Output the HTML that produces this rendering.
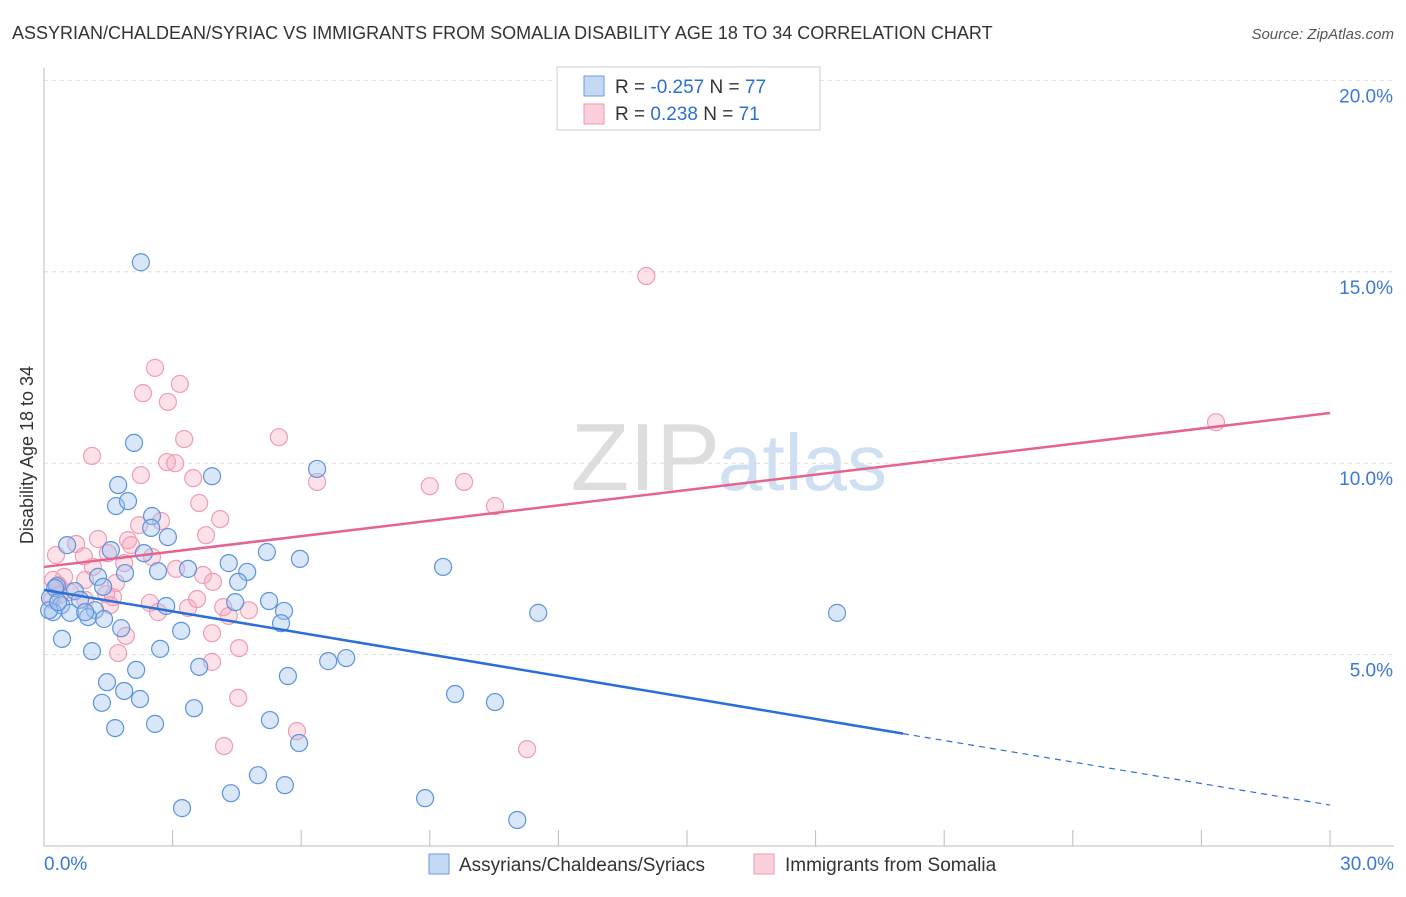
<!DOCTYPE html>
<html><head><meta charset="utf-8"><style>
body{margin:0;background:#fff;font-family:"Liberation Sans",sans-serif}
svg text{font-family:"Liberation Sans",sans-serif}
</style></head><body>
<svg width="1406" height="892" viewBox="0 0 1406 892" xmlns="http://www.w3.org/2000/svg">
<text x="12" y="39" font-size="18" fill="#333">ASSYRIAN/CHALDEAN/SYRIAC VS IMMIGRANTS FROM SOMALIA DISABILITY AGE 18 TO 34 CORRELATION CHART</text>
<text x="1394" y="39" font-size="15" fill="#555" font-style="italic" text-anchor="end">Source: ZipAtlas.com</text>
<text x="720" y="490" font-size="96" fill="#ddd" text-anchor="end" font-family="Liberation Serif">ZIP</text>
<text x="718" y="490" font-size="80" fill="#cfe0f3">atlas</text>
<g id="grid"></g>
<g id="axes"></g>
<g id="pts"></g>
<g id="trend"></g>
<text transform="translate(33,455) rotate(-90)" font-size="18" fill="#333" text-anchor="middle">Disability Age 18 to 34</text>
<g>
<rect x="557" y="67" width="263" height="63" fill="#fff" stroke="#ccc"/>
<rect x="584" y="76" width="20" height="20" fill="#c5d9f3" stroke="#6b9be0"/>
<rect x="584" y="104" width="20" height="20" fill="#fbd0dc" stroke="#ec9ab2"/>
<text x="615" y="93" font-size="19" fill="#333">R = <tspan fill="#2b6fd6">-0.257</tspan>   N = <tspan fill="#2b6fd6">77</tspan></text>
<text x="615" y="120" font-size="19" fill="#333">R =  <tspan fill="#2b6fd6"> 0.238</tspan>   N =  <tspan fill="#2b6fd6">71</tspan></text>
</g>
<g>
<rect x="429" y="854" width="20" height="20" fill="#c5d9f3" stroke="#6b9be0"/>
<text x="459" y="871" font-size="19" fill="#333">Assyrians/Chaldeans/Syriacs</text>
<rect x="754" y="854" width="20" height="20" fill="#fbd0dc" stroke="#ec9ab2"/>
<text x="785" y="871" font-size="19" fill="#333">Immigrants from Somalia</text>
</g>
</svg>
<script>
const blueX=[2.26,2.1,3.92,6.37,1.73,1.68,1.96,2.52,2.5,2.89,0.54,1.56,2.33,4.31,5.2,5.97,9.31,2.66,1.89,3.36,4.74,4.53,1.26,0.3,0.72,1.38,0.14,0.84,0.4,1.19,0.61,1.03,1.4,0.21,2.85,4.46,5.25,5.6,5.53,11.53,18.5,1.8,3.2,0.42,1.12,2.71,3.62,2.15,6.63,7.05,5.69,1.47,1.87,1.35,2.24,3.5,9.59,10.52,2.59,1.66,5.27,5.95,4.99,4.36,5.62,3.22,8.89,11.04,0.26,0.12,0.33,0.96];
const blueY=[15.25,10.53,9.66,9.85,9.43,8.88,9.01,8.62,8.31,8.07,7.86,7.73,7.65,7.39,7.68,7.5,7.29,7.18,7.13,7.24,7.16,6.9,7.03,6.79,6.66,6.77,6.48,6.43,6.29,6.16,6.09,5.98,5.93,6.11,6.27,6.37,6.4,6.14,5.82,6.09,6.09,5.69,5.62,5.41,5.09,5.15,4.68,4.6,4.83,4.91,4.44,4.28,4.05,3.74,3.84,3.6,3.97,3.76,3.19,3.08,3.29,2.69,1.85,1.38,1.59,0.99,1.25,0.68,6.74,6.16,6.37,6.11];
const pinkX=[14.05,27.34,2.59,3.17,2.31,2.89,3.27,5.48,1.12,2.87,3.06,2.26,3.48,6.37,9.0,9.8,10.52,3.62,4.11,2.73,2.22,3.78,1.26,1.96,0.75,2.03,0.28,0.93,1.49,2.52,1.14,1.87,0.47,3.08,3.71,0.96,1.68,3.94,0.33,1.45,1.61,2.47,3.36,3.57,4.18,4.78,2.66,4.31,1.91,3.92,1.73,4.55,3.92,4.53,5.9,4.2,11.27,0.21,0.37,0.19,0.61,0.96,1.54];
const pinkY=[14.89,11.07,12.49,12.07,11.83,11.6,10.63,10.68,10.19,10.03,10.0,9.69,9.61,9.51,9.4,9.51,8.88,8.96,8.54,8.49,8.38,8.12,8.02,7.99,7.89,7.86,7.6,7.57,7.65,7.55,7.29,7.39,7.03,7.24,7.08,6.95,6.87,6.9,6.82,6.58,6.5,6.35,6.22,6.45,6.24,6.16,6.11,6.01,5.49,5.56,5.04,5.17,4.81,3.87,3.0,2.61,2.53,6.95,6.56,6.43,6.63,6.43,6.29];
const blueTrend=[6.69,1.07]; const blueSolidEnd=20.04;
const pinkTrend=[7.29,11.31];
const yTicks=[5,10,15,20];
const xTickVals=[3,6,9,12,15,18,21,24,27,30];
const NS='http://www.w3.org/2000/svg';
const X=v=>44+v/30*1286, Y=v=>846-v/5*191.4;
function mk(tag,attrs,parent){const e=document.createElementNS(NS,tag);for(const k in attrs)e.setAttribute(k,attrs[k]);document.getElementById(parent).appendChild(e);return e;}
yTicks.forEach(t=>{
 const l=mk('line',{x1:44,x2:1394,y1:Y(t),y2:Y(t),stroke:'#ddd','stroke-dasharray':'4,4'},'grid');
 
 
 const tx=mk('text',{x:1393,y:Y(t)+22,'font-size':19,fill:'#3b78d8','text-anchor':'end'},'grid');
 tx.textContent=t.toFixed(1)+'%';
 
 
});
let a=mk('line',{x1:44,x2:44,y1:68,y2:846,stroke:'#bbb'},'axes');


a=mk('line',{x1:44,x2:1394,y1:846,y2:846,stroke:'#bbb'},'axes');


xTickVals.forEach(t=>{
 const l=mk('line',{x1:X(t),x2:X(t),y1:830,y2:846,stroke:'#bbb'},'axes');
 
 
});
let tl=mk('text',{x:44,y:870,'font-size':19,fill:'#3b78d8'},'axes');tl.textContent='0.0%';


tl=mk('text',{x:1394,y:870,'font-size':19,fill:'#3b78d8','text-anchor':'end'},'axes');tl.textContent='30.0%';


pinkX.forEach((x,i)=>{
 const c=mk('circle',{cx:X(x),cy:Y(pinkY[i]),r:8.5,fill:'rgba(247,168,190,0.35)',stroke:'#ee9db4','stroke-width':1.2},'pts');
 
 
});
blueX.forEach((x,i)=>{
 const c=mk('circle',{cx:X(x),cy:Y(blueY[i]),r:8.5,fill:'rgba(160,195,240,0.4)',stroke:'#5d93dd','stroke-width':1.2},'pts');
 
 
});
const by=x=>blueTrend[0]+(blueTrend[1]-blueTrend[0])*x/30;
let t=mk('line',{x1:X(0),y1:Y(by(0)),x2:X(blueSolidEnd),y2:Y(by(blueSolidEnd)),stroke:'#2b6fd6','stroke-width':2.5},'trend');


t=mk('line',{x1:X(blueSolidEnd),y1:Y(by(blueSolidEnd)),x2:X(30),y2:Y(by(30)),stroke:'#2b6fd6','stroke-width':1.2,'stroke-dasharray':'6,5'},'trend');


t=mk('line',{x1:X(0),y1:Y(pinkTrend[0]),x2:X(30),y2:Y(pinkTrend[1]),stroke:'#e5648e','stroke-width':2.5},'trend');


</script>
</body></html>
